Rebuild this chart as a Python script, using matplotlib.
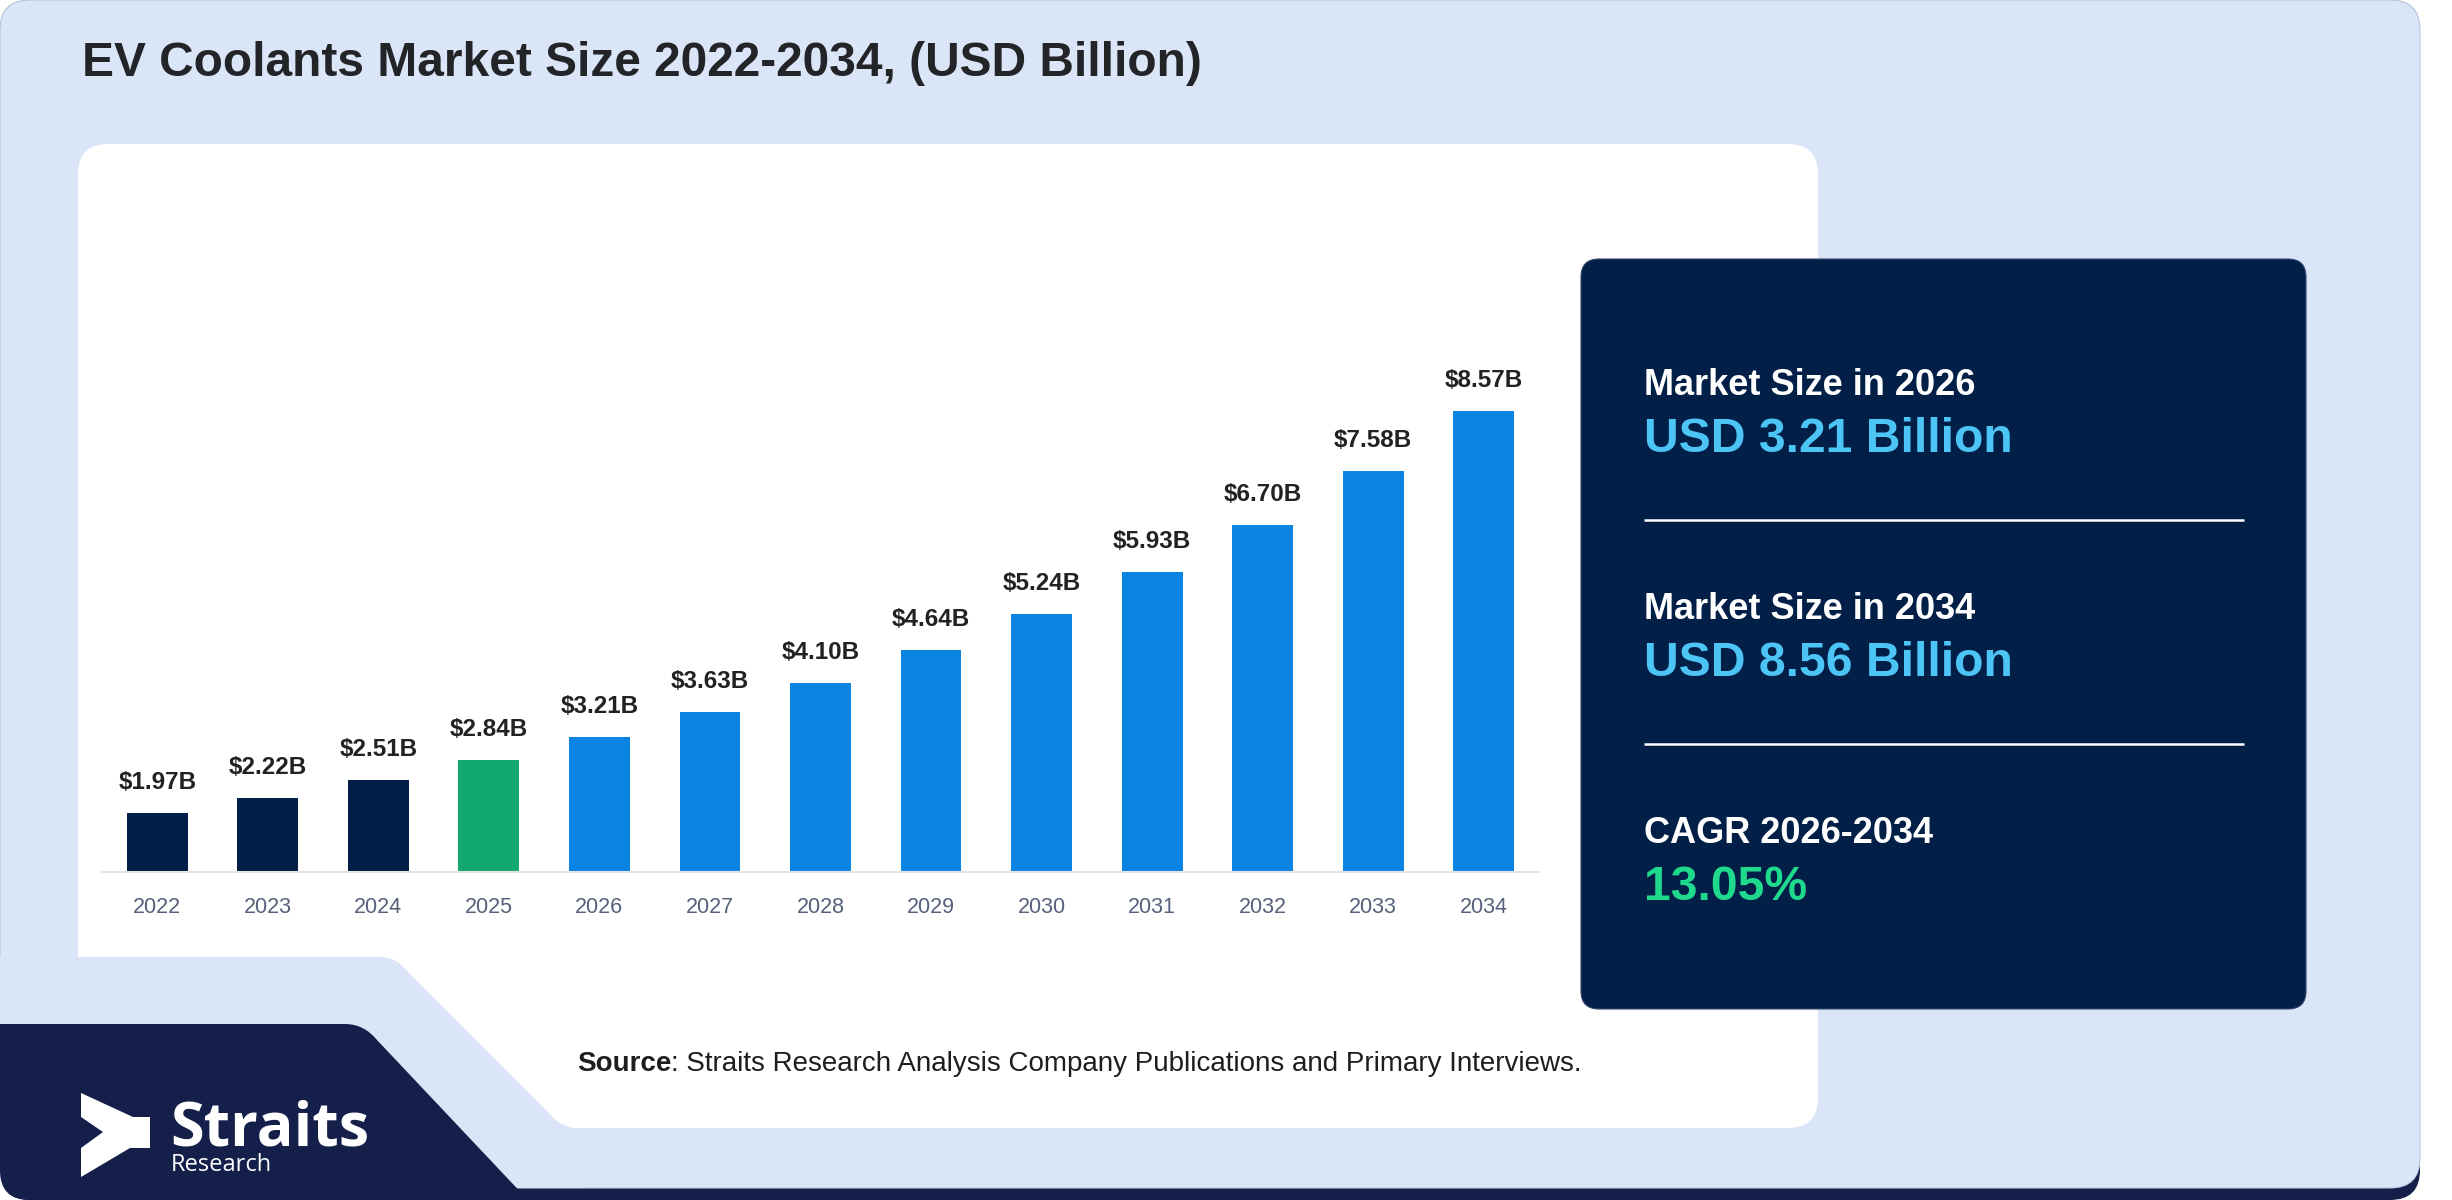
import matplotlib
matplotlib.use("Agg")
import matplotlib.pyplot as plt
from matplotlib.patches import FancyBboxPatch, PathPatch, Polygon
from matplotlib.path import Path
import matplotlib.transforms as mtransforms

plt.rcParams['font.family'] = ['Liberation Sans', 'DejaVu Sans']

# data
years = [2022, 2023, 2024, 2025, 2026, 2027, 2028, 2029, 2030, 2031, 2032, 2033, 2034]
values = [1.97, 2.22, 2.51, 2.84, 3.21, 3.63, 4.10, 4.64, 5.24, 5.93, 6.70, 7.58, 8.57]
base_year = 2025

title = "EV Coolants Market Size 2022-2034, (USD Billion)"
stat_labels = ["Market Size in 2026", "Market Size in 2034", "CAGR 2026-2034"]
stat_values = ["USD 3.21 Billion", "USD 8.56 Billion", "13.05%"]
source_text = ": Straits Research Analysis Company Publications and Primary Interviews."

NAVY = '#021f48'
GREEN = '#12a870'
BLUE = '#0a84e2'
LIGHT = '#dae6f8'
LOGO_NAVY = '#141f4a'

W, H = 2452, 1200
fig = plt.figure(figsize=(W / 100, H / 100), dpi=100, facecolor='white')

# background layer in pixel coords
bg = fig.add_axes([0, 0, 1, 1])
bg.set_xlim(0, W)
bg.set_ylim(H, 0)
bg.axis('off')

outer = FancyBboxPatch((0, 0), 2420, 1200, boxstyle="round,pad=0,rounding_size=30",
                       fc=LOGO_NAVY, ec='none')
bg.add_patch(outer)
bg.add_patch(FancyBboxPatch((0, 0), 2420, 1188, boxstyle="round,pad=0,rounding_size=30",
                            fc=LIGHT, ec='#b8c8de', lw=0.8))

# white chart card
bg.add_patch(FancyBboxPatch((78, 144), 1740, 984, boxstyle="round,pad=0,rounding_size=30",
                            fc='white', ec='none'))

# light blue notch at the card's lower left
notch = Path([(0, 957), (380, 957), (397, 957), (408, 972), (548, 1112), (560, 1129),
              (585, 1129), (585, 1188), (0, 1188), (0, 957)],
             [Path.MOVETO, Path.LINETO, Path.CURVE3, Path.CURVE3, Path.LINETO,
              Path.CURVE3, Path.CURVE3, Path.LINETO, Path.LINETO, Path.CLOSEPOLY])
p = PathPatch(notch, fc=LIGHT, ec='none')
bg.add_patch(p)
p.set_clip_path(outer)

# navy logo block
navy = Path([(0, 1024), (345, 1024), (364, 1024), (377, 1040), (528, 1200),
             (0, 1200), (0, 1024)],
            [Path.MOVETO, Path.LINETO, Path.CURVE3, Path.CURVE3, Path.LINETO,
             Path.LINETO, Path.CLOSEPOLY])
p = PathPatch(navy, fc=LOGO_NAVY, ec='none')
bg.add_patch(p)
p.set_clip_path(outer)

# logo icon
icon = [(81, 1093), (133, 1117), (150, 1117), (150, 1148), (130, 1148), (81, 1177),
        (81, 1148), (103, 1132), (81, 1117)]
bg.add_patch(Polygon(icon, closed=True, fc='white', ec='none'))
bg.text(170, 1145, "Straits", color='white', fontsize=44, fontweight='bold',
        family=['Open Sans', 'DejaVu Sans'], va='baseline', ha='left')
bg.text(171, 1171, "Research", color='white', fontsize=17,
        family=['Open Sans', 'DejaVu Sans'], va='baseline', ha='left')

# title
bg.text(82, 76, title, fontsize=34.5, fontweight='bold', color='#222428',
        va='baseline', ha='left')

# right stats panel
bg.add_patch(FancyBboxPatch((1581, 259), 725, 750, boxstyle="round,pad=0,rounding_size=18",
                            fc=NAVY, ec='#33476e', lw=0.8))
label_base = [395, 619, 843]
value_base = [452, 676, 900]
value_colors = ['#4cc4f6', '#4cc4f6', '#1fd98c']
for i in range(len(stat_labels)):
    bg.text(1644, label_base[i], stat_labels[i], color='white', fontsize=26,
            fontweight='bold', va='baseline', ha='left')
    bg.text(1644, value_base[i], stat_values[i], color=value_colors[i], fontsize=34.7,
            fontweight='bold', va='baseline', ha='left')
for y in [520, 744]:
    bg.plot([1644, 2244], [y, y], color='white', lw=1.8, solid_capstyle='butt')

# source line
src_b = bg.text(577, 1071, "Source", fontsize=20, fontweight='bold', color='#1e1e1e',
                va='baseline', ha='left')
fig.canvas.draw()
ext = src_b.get_window_extent(fig.canvas.get_renderer())
bg.text(577 + ext.width, 1071, source_text, fontsize=20, color='#1e1e1e',
        va='baseline', ha='left')

# bar chart
base_px, top_px = 872, 300
px_per_unit = 60.9
ymin = 1.0
ymax = ymin + (base_px - top_px) / px_per_unit
ax = fig.add_axes([102 / W, 1 - base_px / H, (1539 - 102) / W, (base_px - top_px) / H])
ax.patch.set_alpha(0)
x = list(range(len(years)))
colors = [NAVY if yr < base_year else (GREEN if yr == base_year else BLUE) for yr in years]
ax.bar(x, values, width=0.55, color=colors, zorder=2)
ax.set_xlim(-0.5, len(years) - 0.5)
ax.set_ylim(ymin, ymax)
for s in ['top', 'right', 'left']:
    ax.spines[s].set_visible(False)
ax.spines['bottom'].set_color('#e4e4e4')
ax.spines['bottom'].set_linewidth(1.5)
ax.set_yticks([])
ax.set_xticks([])

for i, v in enumerate(values):
    ax.annotate(f"${v:.2f}B", (i, v), xytext=(0, 17.3), textcoords='offset points',
                ha='center', va='baseline', fontsize=17.5, fontweight='bold', color='#222222')

trans = mtransforms.blended_transform_factory(ax.transData, ax.transAxes)
for i, yr in enumerate(years):
    ax.text(i, -(913 - base_px) / (base_px - top_px), str(yr), transform=trans,
            ha='center', va='baseline', fontsize=15.5, color='#56607a')

fig.savefig("out.png", dpi=100, facecolor='white')
